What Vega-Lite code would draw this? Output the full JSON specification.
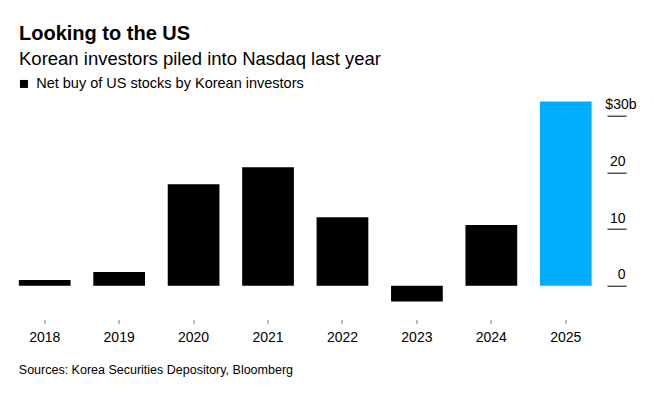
{
  "$schema": "https://vega.github.io/schema/vega-lite/v6.json",
  "autosize": "none",
  "width": 595.5,
  "height": 221,
  "padding": {"left": 7.5, "top": 98.7, "right": 51, "bottom": 78.3},
  "background": "white",
  "title": {
    "text": "Looking to the US",
    "subtitle": "Korean investors piled into Nasdaq last year",
    "anchor": "start",
    "frame": "group",
    "dx": 11.5,
    "offset": 8,
    "font": "Liberation Sans",
    "fontSize": 20,
    "fontWeight": "bold",
    "color": "#000000",
    "subtitleFont": "Liberation Sans",
    "subtitleFontSize": 18.5,
    "subtitleColor": "#000000",
    "subtitlePadding": 6
  },
  "data": {
    "values": [
      {"year": "2018", "value": 1.0, "series": "Net buy of US stocks by Korean investors"},
      {"year": "2019", "value": 2.4, "series": "Net buy of US stocks by Korean investors"},
      {"year": "2020", "value": 17.9, "series": "Net buy of US stocks by Korean investors"},
      {"year": "2021", "value": 20.9, "series": "Net buy of US stocks by Korean investors"},
      {"year": "2022", "value": 12.1, "series": "Net buy of US stocks by Korean investors"},
      {"year": "2023", "value": -2.8, "series": "Net buy of US stocks by Korean investors"},
      {"year": "2024", "value": 10.7, "series": "Net buy of US stocks by Korean investors"},
      {"year": "2025", "value": 32.5, "series": "Net buy of US stocks by Korean investors"}
    ]
  },
  "mark": {"type": "bar"},
  "encoding": {
    "x": {
      "field": "year",
      "type": "ordinal",
      "scale": {"paddingInner": 0.305, "paddingOuter": 0.1525},
      "axis": {
        "title": "Sources: Korea Securities Depository, Bloomberg",
        "titleAnchor": "start",
        "titleAlign": "left",
        "titleBaseline": "alphabetic",
        "titleX": 10.8,
        "titleY": 53.6,
        "titleFont": "Liberation Sans",
        "titleFontSize": 12.5,
        "titleFontWeight": "normal",
        "titleColor": "#000000",
        "domain": false,
        "grid": false,
        "ticks": true,
        "tickSize": 3.5,
        "tickColor": "#666666",
        "labelAngle": 0,
        "labelFont": "Liberation Sans",
        "labelFontSize": 14,
        "labelColor": "#000000",
        "labelPadding": 7
      }
    },
    "y": {
      "field": "value",
      "type": "quantitative",
      "scale": {"domain": [-6, 33], "nice": false, "zero": false},
      "axis": {
        "orient": "right",
        "offset": 4,
        "title": null,
        "domain": false,
        "grid": false,
        "values": [0, 10, 20, 30],
        "tickSize": 19,
        "tickColor": "#000000",
        "tickWidth": 1,
        "labelAlign": "right",
        "labelBaseline": "alphabetic",
        "labelOffset": -7,
        "labelPadding": {"condition": {"test": "datum.value == 30", "value": 10}, "value": -1},
        "labelExpr": "datum.value == 30 ? '$30b' : datum.label",
        "labelFont": "Liberation Sans",
        "labelFontSize": 14,
        "labelColor": "#000000"
      }
    },
    "color": {
      "field": "series",
      "type": "nominal",
      "scale": {"range": ["#000000"]},
      "condition": {"test": "datum.year == '2025'", "value": "#00aeff"},
      "legend": {
        "title": null,
        "orient": "none",
        "legendX": 9.2,
        "legendY": -22,
        "padding": 0,
        "symbolType": "square",
        "symbolSize": 64,
        "symbolStrokeWidth": 0,
        "labelFont": "Liberation Sans",
        "labelFontSize": 14.5,
        "labelColor": "#000000",
        "labelOffset": 5,
        "labelLimit": 400
      }
    }
  },
  "config": {
    "font": "Liberation Sans",
    "view": {"stroke": null}
  }
}
